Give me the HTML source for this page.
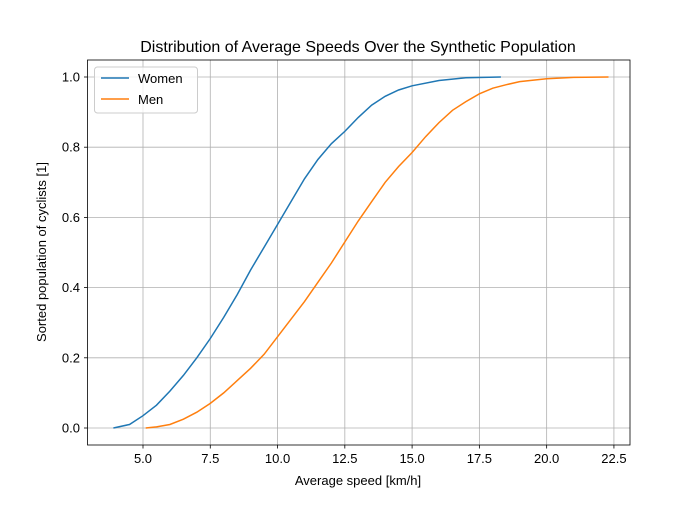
<!DOCTYPE html>
<html><head><meta charset="utf-8"><style>
body{margin:0;background:#fff}
svg{font-family:"Liberation Sans","DejaVu Sans",sans-serif}
</style></head><body>
<svg id="chart" width="700" height="500" viewBox="0 0 700 500">
<rect width="700" height="500" fill="#fff"/>
<text x="358" y="52" font-size="16" text-anchor="middle">Distribution of Average Speeds Over the Synthetic Population</text>
<g id="grid"></g>
<g id="series"></g>
<rect x="87.5" y="60" width="542.5" height="385" fill="none" stroke="#000" stroke-width="0.8"/>
<g id="ticks"></g>
<text x="358" y="485" font-size="13" text-anchor="middle">Average speed [km/h]</text>
<text transform="translate(46,252) rotate(-90)" font-size="13" text-anchor="middle">Sorted population of cyclists [1]</text>
<g>
<rect x="94.5" y="67" width="103" height="46" rx="3" fill="#fff" fill-opacity="0.8" stroke="#ccc"/>
<g><line x1="101" y1="78" x2="129" y2="78" stroke="#1f77b4" stroke-width="1.5"/><text x="138" y="83" font-size="13">Women</text></g>
<g><line x1="101" y1="99" x2="129" y2="99" stroke="#ff7f0e" stroke-width="1.5"/><text x="138" y="104" font-size="13">Men</text></g>
</g>
</svg>
<script>
const xTicks=[5.0,7.5,10.0,12.5,15.0,17.5,20.0,22.5];
const yTicks=[0.0,0.2,0.4,0.6,0.8,1.0];
const womenX=[3.9,4.5,5,5.5,6,6.5,7,7.5,8,8.5,9,9.5,10,10.5,11,11.5,12,12.5,13,13.5,14,14.5,15,16,17,18.3];
const womenY=[0,0.01,0.035,0.065,0.105,0.15,0.2,0.255,0.315,0.38,0.45,0.515,0.58,0.645,0.71,0.765,0.81,0.845,0.885,0.92,0.945,0.963,0.975,0.99,0.998,1.0];
const menX=[5.1,5.5,6,6.5,7,7.5,8,8.5,9,9.5,10,10.5,11,11.5,12,12.5,13,13.5,14,14.5,15,15.5,16,16.5,17,17.5,18,18.5,19,20,21,22.3];
const menY=[0,0.003,0.01,0.025,0.045,0.07,0.1,0.135,0.17,0.21,0.26,0.31,0.36,0.415,0.47,0.53,0.59,0.645,0.7,0.745,0.785,0.83,0.87,0.905,0.93,0.952,0.968,0.978,0.987,0.995,0.999,1.0];
const X=v=>143+(v-5)*26.91, Y=v=>428-v*351;
const ns="http://www.w3.org/2000/svg";
const grid=document.getElementById('grid'), ticks=document.getElementById('ticks'), ser=document.getElementById('series');
function mk(tag,a,p){const e=document.createElementNS(ns,tag);for(const k in a)e.setAttribute(k,a[k]);p.appendChild(e);return e;}
xTicks.forEach(t=>{const x=X(t);
 const g=mk('line',{x1:x,x2:x,y1:60,y2:445,stroke:'#b0b0b0','stroke-width':0.8},grid);
 
 
 mk('line',{x1:x,x2:x,y1:445,y2:448.5,stroke:'#000','stroke-width':0.8},ticks);
 const tx=mk('text',{x:x,y:463,'font-size':13,'text-anchor':'middle'},ticks);tx.textContent=t.toFixed(1);
 
 
});
yTicks.forEach(t=>{const y=Y(t);
 const g=mk('line',{x1:87.5,x2:630,y1:y,y2:y,stroke:'#b0b0b0','stroke-width':0.8},grid);
 
 
 mk('line',{x1:84,x2:87.5,y1:y,y2:y,stroke:'#000','stroke-width':0.8},ticks);
 const tx=mk('text',{x:80,y:y+4.5,'font-size':13,'text-anchor':'end'},ticks);tx.textContent=t.toFixed(1);
 
 
});
function line(xs,ys,c,name){
 const d=xs.map((v,i)=>(i?'L':'M')+X(v).toFixed(1)+','+Y(ys[i]).toFixed(1)).join('');
 const p=mk('path',{d:d,fill:'none',stroke:c,'stroke-width':1.5},ser);
 
 
}
line(womenX,womenY,'#1f77b4','women-line');
line(menX,menY,'#ff7f0e','men-line');
</script>
</body></html>
